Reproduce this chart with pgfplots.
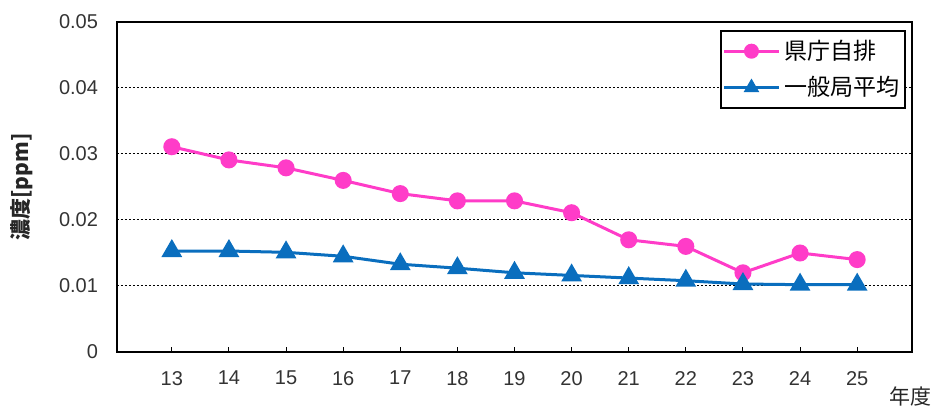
\documentclass[border=0pt]{standalone}
\usepackage{fontspec}
\setmainfont{Liberation Sans}
\newfontfamily\jp{Noto Sans CJK JP}
\usepackage{pgfplots}
\pgfplotsset{compat=1.18}
\definecolor{cpink}{HTML}{FF3CC8}
\definecolor{cblue}{HTML}{0A6EBE}
\begin{document}
\begin{tikzpicture}
\begin{axis}[
  scale only axis,
  width=397.5pt, height=165pt,
  xmin=12.04, xmax=25.96,
  ymin=0, ymax=0.05,
  xtick={13,...,25},
  ytick={0,0.01,0.02,0.03,0.04,0.05},
  yticklabels={0,0.01,0.02,0.03,0.04,0.05},
  scaled y ticks=false,
  /pgf/number format/assume math mode=true,
  tick label style={font=\fontsize{10}{12}\selectfont, color=black!80},
  xticklabel style={yshift=-6pt},
  yticklabel style={xshift=-6pt},
  tick align=inside,
  xtick pos=bottom,
  major tick length=2.5pt,
  ytick style={draw=none},
  xtick style={black, line width=0.5pt},
  axis line style={line width=1.1pt},
  ymajorgrids,
  major grid style={black, line width=0.5pt, dash pattern=on 1.2pt off 0.8pt},
  clip=false,
  legend style={at={(rel axis cs:1,1)}, anchor=north east, xshift=-3pt, yshift=-4pt,
    draw=black, line width=1pt, fill=white, font=\jp\fontsize{11.5}{14}\selectfont,
    inner xsep=1pt, inner ysep=2.5pt, row sep=3pt},
  legend cell align=left,
  legend image code/.code={
    \draw[#1] (0cm,0cm) -- (0.95cm,0cm);
    \draw[#1, only marks, mark size=3pt] plot coordinates {(0.475cm,0cm)};
  },
]
\addplot[cpink, line width=1.5pt, mark=*, mark size=3.5pt, mark options={solid}] coordinates {
(13,0.0311) (14,0.0291) (15,0.0279) (16,0.0260) (17,0.0240) (18,0.0229) (19,0.0229)
(20,0.0211) (21,0.0170) (22,0.0160) (23,0.0120) (24,0.0150) (25,0.0140)};
\addlegendentry{県庁自排}
\addplot[cblue, line width=1.5pt, mark=triangle*, mark size=4.5pt, mark options={solid}] coordinates {
(13,0.0153) (14,0.0153) (15,0.0151) (16,0.0145) (17,0.0133) (18,0.0127) (19,0.0120)
(20,0.0116) (21,0.0112) (22,0.0108) (23,0.0103) (24,0.0102) (25,0.0102)};
\addlegendentry{一般局平均}
\coordinate (bl) at (rel axis cs:0,0);
\coordinate (tr) at (rel axis cs:1,1);
\node[font=\jp\bfseries\fontsize{10.5}{12}\selectfont, rotate=90, color=black!85] at ([xshift=-47.5pt]rel axis cs:0,0.5) {濃度[ppm]};
\node[font=\jp\fontsize{10.5}{12}\selectfont, color=black!85] at ([xshift=-1pt,yshift=-22.5pt]rel axis cs:1,0) {年度};
\end{axis}
\pgfresetboundingbox
\path[use as bounding box] ([xshift=-58.5pt,yshift=-29pt]bl) rectangle ([xshift=10.5pt,yshift=11pt]tr);
\end{tikzpicture}
\end{document}
